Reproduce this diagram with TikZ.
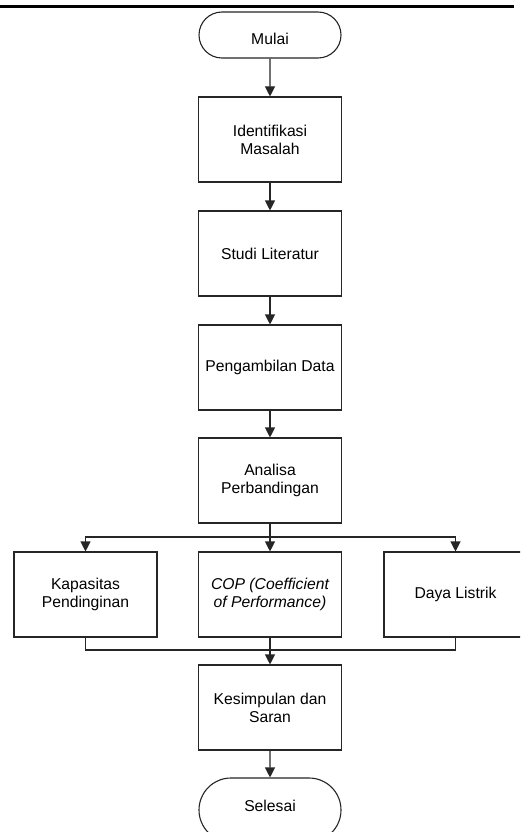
\documentclass[tikz,border=0pt]{standalone}
\usepackage{fontspec}
\setmainfont{Liberation Sans}
\usetikzlibrary{arrows.meta,shapes.misc}
\begin{document}
\begin{tikzpicture}[x=1pt,y=-1pt,
  every node/.style={font=\fontsize{15.7pt}{18pt}\selectfont, text=black, inner sep=0pt},
  procbox/.style={draw=black!85, line width=1.1pt, minimum width=143pt, minimum height=85pt, align=center},
  termbox/.style={draw=black!85, line width=1.1pt, rounded rectangle, minimum width=142pt, minimum height=46pt},
  conn/.style={draw=black!85, line width=1.1pt},
  arr/.style={conn, -{Triangle[width=10pt,length=10pt]}}]
\useasboundingbox (0,0) rectangle (520,832);
\clip (0,0) rectangle (520,832);
\fill[white] (0,0) rectangle (520,832);
\draw[line width=3pt, black] (0,6.5) -- (514,6.5);

\node[termbox, text height=20pt, text depth=0pt] (mulai) at (270,35) {Mulai};
\node[procbox] (ident) at (270,139.5) {Identifikasi\\Masalah};
\node[procbox] (studi) at (270,253.5) {Studi Literatur};
\node[procbox] (ambil) at (270,367.5) {Pengambilan Data};
\node[procbox] (anal) at (270,480.5) {Analisa\\Perbandingan};
\node[procbox] (kap) at (85.5,594.5) {Kapasitas\\Pendinginan};
\node[procbox] (cop) at (270,594.5) {\itshape COP (Coefficient\\\itshape of Performance)};
\node[procbox] (daya) at (455.5,594.5) {Daya Listrik};
\node[procbox] (kes) at (270,707.5) {Kesimpulan dan\\Saran};
\node[termbox, minimum height=64pt, text height=11.2pt, text depth=8pt] (sel) at (270,810) {Selesai};

\coordinate (br) at (270,537);
\coordinate (mg) at (270,650);

\draw[arr] (mulai) -- (ident);
\draw[arr] (ident) -- (studi);
\draw[arr] (studi) -- (ambil);
\draw[arr] (ambil) -- (anal);
\draw[arr] (anal) -- (cop);
\draw[arr] (br) -| (kap);
\draw[arr] (br) -| (daya);
\draw[conn] (kap) |- (mg);
\draw[conn] (daya) |- (mg);
\draw[arr] (cop) -- (kes);
\draw[arr] (kes) -- (sel);
\end{tikzpicture}
\end{document}
